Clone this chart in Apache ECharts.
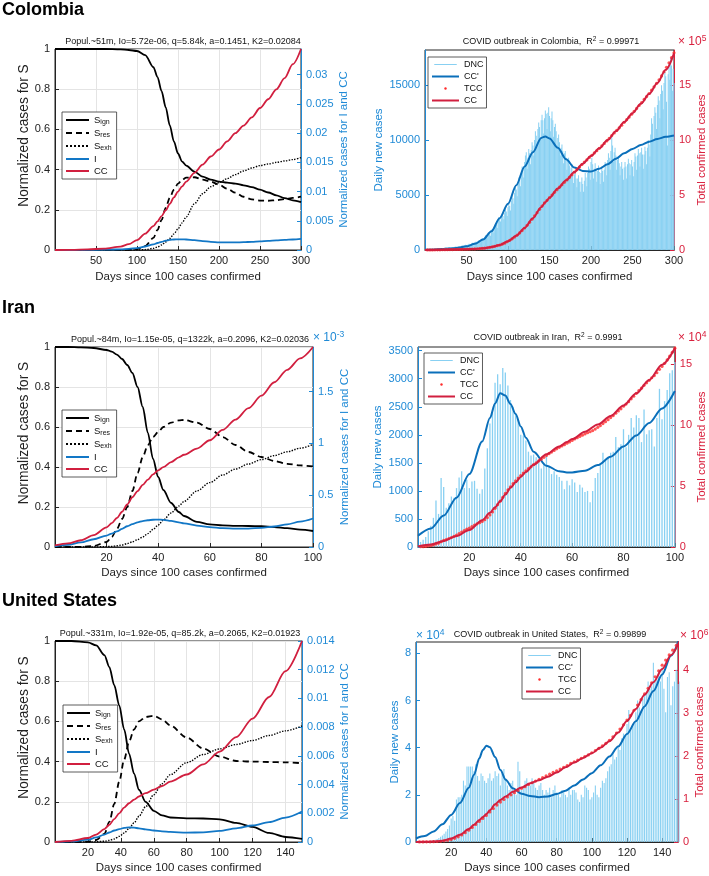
<!DOCTYPE html>
<html>
<head>
<meta charset="utf-8">
<title>COVID outbreak model fits</title>
<script src="https://cdn.jsdelivr.net/npm/echarts@6/dist/echarts.min.js"></script>
<style>
  html, body { margin: 0; padding: 0; background: #fff; }
  #chart { width: 709px; height: 876px; }
</style>
</head>
<body>
<div id="chart"></div>
<script>
// ===== Colombia =====
// model curves (left plot)
var colModelDays = [0, 20, 40, 60, 80, 90, 100, 110, 120, 125, 130, 135, 140, 145, 150, 155, 160, 170, 180, 190, 200, 210, 220, 230, 240, 250, 260, 270, 280, 290, 300];
var colSign = [1, 1, 1, 1, 0.998, 0.995, 0.99, 0.97, 0.91, 0.86, 0.79, 0.71, 0.62, 0.54, 0.48, 0.44, 0.42, 0.39, 0.365, 0.35, 0.34, 0.335, 0.33, 0.322, 0.313, 0.3, 0.286, 0.272, 0.258, 0.247, 0.238];
var colSres = [0, 0, 0, 0, 0, 0.001, 0.005, 0.02, 0.06, 0.1, 0.15, 0.21, 0.26, 0.3, 0.33, 0.35, 0.36, 0.362, 0.35, 0.34, 0.325, 0.305, 0.285, 0.265, 0.252, 0.246, 0.245, 0.248, 0.253, 0.259, 0.265];
var colSexh = [0, 0, 0, 0, 0, 0, 0, 0.002, 0.008, 0.015, 0.025, 0.04, 0.058, 0.08, 0.105, 0.135, 0.165, 0.23, 0.28, 0.315, 0.335, 0.355, 0.375, 0.393, 0.408, 0.42, 0.428, 0.436, 0.443, 0.45, 0.46];
var colI = [0, 0, 0.00002, 0.00005, 0.00012, 0.0002, 0.00033, 0.0006, 0.00095, 0.0012, 0.0014, 0.0016, 0.00172, 0.0018, 0.00183, 0.00183, 0.0018, 0.00168, 0.00153, 0.0014, 0.00132, 0.0013, 0.0013, 0.00134, 0.0014, 0.00148, 0.00157, 0.00166, 0.00174, 0.0018, 0.0019];
var colCC = [0, 0.00003, 0.0001, 0.00024, 0.00058, 0.001, 0.0017, 0.0028, 0.0041, 0.0049, 0.0058, 0.0068, 0.0079, 0.009, 0.01, 0.0109, 0.0117, 0.0132, 0.0146, 0.016, 0.0172, 0.0186, 0.02, 0.0213, 0.0227, 0.0243, 0.0258, 0.0275, 0.0294, 0.0318, 0.0344];
// fit (right plot); totals in units of 10^5
var colFitDays = [0, 10, 20, 30, 40, 50, 60, 70, 80, 90, 100, 110, 120, 130, 140, 145, 150, 160, 170, 180, 190, 200, 210, 220, 230, 240, 250, 260, 270, 280, 290, 300];
var colFitRate = [30, 50, 80, 130, 200, 330, 560, 950, 1700, 2900, 4200, 5900, 7600, 8900, 10200, 10330, 10150, 9300, 8250, 7500, 7200, 7150, 7400, 7800, 8300, 8800, 9200, 9550, 9850, 10100, 10300, 10420];
var colFitTotal = [0, 0.01, 0.02, 0.035, 0.05, 0.07, 0.1, 0.15, 0.27, 0.45, 0.8, 1.3, 2.0, 2.9, 3.9, 4.35, 4.75, 5.6, 6.35, 7.1, 7.85, 8.55, 9.25, 10.0, 10.8, 11.65, 12.45, 13.3, 14.2, 15.2, 16.4, 17.9];
// daily new cases, day 1..300
var colNew = [
  30, 40, 50, 60, 40, 70, 80, 60, 90, 100,
  90, 110, 120, 80, 130, 150, 140, 120, 160, 180,
  170, 190, 150, 200, 220, 210, 180, 230, 250, 240,
  200, 260, 280, 270, 230, 300, 320, 290, 250, 330,
  350, 340, 300, 380, 400, 420, 360, 450, 480, 460,
  400, 520, 560, 540, 480, 600, 650, 620, 560, 700,
  760, 740, 650, 820, 900, 860, 780, 980, 1100, 1050,
  950, 1200, 1350, 1300, 1150, 1450, 1600, 1500, 1300, 1700,
  1900, 1800, 1600, 2100, 2400, 2300, 2000, 2700, 3000, 2900,
  2600, 3100, 3300, 3100, 2800, 3400, 3700, 3500, 3100, 3900,
  4200, 4000, 3600, 4500, 4900, 4700, 4200, 5200, 5700, 5500,
  4900, 6000, 6600, 6400, 5800, 7000, 7600, 7300, 6600, 8000,
  8600, 8900, 7400, 8400, 9200, 8800, 7800, 9100, 9800, 9500,
  8600, 10000, 10800, 10400, 9400, 11000, 11600, 11200, 10000, 11800,
  12300, 11800, 10600, 12000, 12700, 12400, 11000, 12500, 13000, 12200,
  10800, 12000, 12600, 11800, 10300, 11200, 11500, 10800, 9500, 10200,
  10500, 9800, 8600, 9300, 9600, 9000, 7900, 8800, 9000, 8400,
  7300, 8200, 8400, 7700, 6800, 7500, 7800, 7100, 6100, 6900,
  7200, 6500, 5700, 6500, 6800, 6200, 5300, 6200, 6600, 6000,
  5300, 6300, 7000, 6600, 5800, 7000, 7600, 7400, 6400, 8000,
  8400, 7800, 6500, 7400, 7900, 7300, 6200, 7200, 7700, 7100,
  6000, 7000, 7600, 7200, 6200, 7300, 8000, 7800, 6800, 8200,
  8800, 8400, 7300, 9000, 10300, 9500, 8000, 8900, 9300, 8600,
  7300, 8200, 8500, 7900, 6800, 7600, 8000, 7400, 6400, 7500,
  8000, 7600, 6500, 7800, 8300, 7900, 6800, 7800, 8200, 7600,
  6700, 8000, 8800, 8500, 7300, 8600, 9200, 8800, 7600, 8900,
  9300, 8700, 7400, 8700, 9400, 9000, 7800, 9300, 10000, 9600,
  8500, 10500, 12000, 11500, 10000, 12200, 13000, 12500, 11000, 13200,
  14000, 13600, 12000, 14200, 15000, 14500, 12800, 15200, 16200, 15800,
  13500, 9500, 16000, 17000, 15500, 17500, 16800, 14500, 16500, 15200
];
// total confirmed cases every 3rd day (3, 6, ... 300), units of 10^5
var colTotal = [
  0.003, 0.006, 0.009, 0.012, 0.015, 0.018, 0.021, 0.026, 0.03, 0.035,
  0.039, 0.044, 0.049, 0.054, 0.06, 0.066, 0.072, 0.08, 0.09, 0.1,
  0.113, 0.127, 0.143, 0.165, 0.2, 0.24, 0.28, 0.33, 0.39, 0.45,
  0.53, 0.62, 0.75, 0.88, 1.02, 1.18, 1.36, 1.55, 1.77, 2.0,
  2.25, 2.52, 2.8, 3.1, 3.4, 3.7, 4.0, 4.28, 4.52, 4.76,
  5.0, 5.25, 5.48, 5.72, 5.94, 6.16, 6.38, 6.6, 6.84, 7.08,
  7.31, 7.54, 7.77, 8.0, 8.2, 8.42, 8.62, 8.83, 9.04, 9.25,
  9.47, 9.7, 9.93, 10.17, 10.42, 10.65, 10.88, 11.12, 11.36, 11.62,
  11.86, 12.1, 12.36, 12.62, 12.88, 13.15, 13.42, 13.7, 13.96, 14.24,
  14.54, 14.85, 15.16, 15.48, 15.84, 16.22, 16.62, 17.04, 17.5, 17.95
];

// ===== Iran =====
var iranModelDays = [0, 5, 10, 15, 20, 22, 24, 26, 28, 30, 32, 34, 36, 38, 40, 42, 45, 48, 50, 55, 60, 65, 70, 75, 80, 85, 90, 95, 100];
var iranSign = [1, 1, 0.998, 0.995, 0.985, 0.977, 0.962, 0.94, 0.91, 0.87, 0.8, 0.7, 0.57, 0.44, 0.35, 0.285, 0.22, 0.175, 0.155, 0.126, 0.113, 0.108, 0.106, 0.105, 0.104, 0.1, 0.094, 0.087, 0.08];
var iranSres = [0, 0, 0.001, 0.005, 0.025, 0.05, 0.09, 0.14, 0.2, 0.28, 0.37, 0.45, 0.51, 0.55, 0.575, 0.6, 0.622, 0.633, 0.635, 0.622, 0.59, 0.55, 0.51, 0.475, 0.45, 0.43, 0.416, 0.408, 0.403];
var iranSexh = [0, 0, 0, 0, 0.002, 0.003, 0.006, 0.01, 0.017, 0.026, 0.037, 0.05, 0.067, 0.088, 0.11, 0.135, 0.17, 0.205, 0.228, 0.28, 0.322, 0.36, 0.39, 0.415, 0.437, 0.457, 0.476, 0.494, 0.513];
// I and CC in units of 10^-3
var iranI = [0.006, 0.02, 0.045, 0.075, 0.11, 0.13, 0.15, 0.175, 0.2, 0.22, 0.238, 0.25, 0.258, 0.263, 0.265, 0.262, 0.252, 0.238, 0.228, 0.207, 0.192, 0.182, 0.177, 0.178, 0.185, 0.198, 0.218, 0.245, 0.275];
var iranCC = [0.015, 0.035, 0.065, 0.115, 0.19, 0.23, 0.28, 0.34, 0.41, 0.48, 0.54, 0.6, 0.65, 0.7, 0.74, 0.77, 0.82, 0.865, 0.89, 0.95, 1.03, 1.13, 1.23, 1.34, 1.46, 1.59, 1.71, 1.82, 1.93];
// fit; totals in units of 10^4
var iranFitDays = [0, 5, 10, 15, 20, 25, 28, 30, 32, 34, 36, 38, 40, 42, 45, 50, 55, 58, 60, 65, 70, 75, 80, 85, 90, 95, 100];
var iranFitRate = [200, 330, 560, 880, 1300, 1880, 2300, 2560, 2740, 2700, 2550, 2370, 2150, 1950, 1700, 1450, 1350, 1330, 1330, 1360, 1460, 1610, 1790, 1990, 2210, 2470, 2780];
var iranFitTotal = [0.05, 0.2, 0.5, 0.9, 1.4, 2.2, 2.8, 3.25, 3.75, 4.3, 4.85, 5.3, 5.75, 6.15, 6.75, 7.6, 8.25, 8.6, 8.85, 9.45, 10.05, 10.75, 11.6, 12.6, 13.7, 14.95, 16.3];
// daily new cases, day 1..100
var iranNew = [
  90, 130, 180, 280, 380, 520, 830, 590, 1230, 1070,
  700, 780, 900, 880, 1050, 1240, 1350, 1050, 1200, 1050,
  1170, 1180, 1040, 950, 1030, 1400, 1760, 2200, 2400, 2930,
  3080, 2900, 3190, 3110, 2880, 2620, 2500, 2390, 2270, 2000,
  1990, 1900, 1700, 1630, 1650, 1600, 1520, 1400, 1500, 1630,
  1420, 1300, 1350, 1290, 1250, 1180, 1030, 1180, 1100, 1210,
  1150, 980, 1110, 1060, 980, 1000, 800, 1000, 1230, 1320,
  1500, 1680, 1550, 1600, 1680, 1700, 1960, 1780, 1830, 2100,
  1780, 2000, 2300, 2130, 2350, 2300, 1870, 2450, 2010, 2080,
  2100, 1790, 2300, 2820, 2280, 2600, 2800, 3100, 3150, 3300
];
// total confirmed cases day 1..100, units of 10^4
var iranTotal = [
  0.02, 0.03, 0.05, 0.08, 0.12, 0.17, 0.25, 0.31, 0.43, 0.54,
  0.61, 0.69, 0.78, 0.87, 0.97, 1.1, 1.23, 1.34, 1.46, 1.56,
  1.68, 1.8, 1.9, 1.99, 2.1, 2.24, 2.41, 2.63, 2.87, 3.17,
  3.47, 3.76, 4.08, 4.39, 4.68, 4.94, 5.19, 5.43, 5.66, 5.86,
  6.06, 6.25, 6.42, 6.58, 6.75, 6.91, 7.06, 7.2, 7.35, 7.51,
  7.65, 7.78, 7.92, 8.05, 8.17, 8.29, 8.39, 8.51, 8.62, 8.74,
  8.86, 8.96, 9.07, 9.17, 9.27, 9.37, 9.45, 9.55, 9.67, 9.81,
  9.96, 10.12, 10.28, 10.44, 10.61, 10.78, 10.97, 11.15, 11.33, 11.54,
  11.72, 11.92, 12.15, 12.37, 12.6, 12.83, 13.02, 13.26, 13.46, 13.67,
  13.88, 14.06, 14.29, 14.57, 14.8, 15.06, 15.34, 15.65, 15.97, 16.3
];

// ===== United States =====
var usModelDays = [0, 10, 20, 25, 30, 33, 36, 39, 42, 45, 48, 51, 55, 60, 65, 70, 80, 90, 100, 110, 120, 130, 140, 150];
var usSign = [1, 1, 0.993, 0.978, 0.93, 0.87, 0.78, 0.68, 0.56, 0.44, 0.34, 0.26, 0.2, 0.155, 0.132, 0.122, 0.118, 0.117, 0.113, 0.095, 0.075, 0.045, 0.025, 0.015];
var usSres = [0, 0, 0.002, 0.01, 0.04, 0.1, 0.19, 0.3, 0.41, 0.5, 0.56, 0.6, 0.622, 0.628, 0.61, 0.58, 0.52, 0.465, 0.425, 0.403, 0.4, 0.398, 0.396, 0.392];
var usSexh = [0, 0, 0, 0.001, 0.004, 0.008, 0.015, 0.028, 0.045, 0.067, 0.095, 0.128, 0.175, 0.235, 0.29, 0.335, 0.395, 0.435, 0.463, 0.485, 0.505, 0.53, 0.553, 0.578];
var usI = [0, 0.00004, 0.00016, 0.00032, 0.00052, 0.00066, 0.0008, 0.0009, 0.00098, 0.00102, 0.001, 0.00095, 0.00088, 0.0008, 0.00074, 0.0007, 0.00065, 0.00067, 0.00077, 0.00095, 0.00115, 0.00138, 0.0017, 0.00212];
var usCC = [0, 0.00008, 0.00028, 0.00052, 0.0009, 0.0012, 0.0016, 0.002, 0.0024, 0.0027, 0.00295, 0.00317, 0.0034, 0.00365, 0.0039, 0.0042, 0.0047, 0.0054, 0.0063, 0.0073, 0.0086, 0.0101, 0.0119, 0.014];
// fit; rate in 10^4, totals in 10^6
var usFitDays = [0, 5, 10, 15, 20, 25, 30, 33, 36, 38, 40, 42, 45, 48, 51, 55, 60, 65, 70, 75, 80, 85, 90, 95, 100, 105, 110, 115, 120, 125, 130, 135, 140, 145, 150];
var usFitRate = [0.15, 0.25, 0.45, 0.75, 1.15, 1.65, 2.3, 2.85, 3.55, 3.9, 4.08, 4.02, 3.6, 3.05, 2.64, 2.28, 2.05, 1.95, 1.9, 1.93, 2.03, 2.17, 2.4, 2.65, 2.92, 3.25, 3.62, 4.05, 4.58, 5.12, 5.75, 6.4, 7.1, 7.9, 8.7];
var usFitTotal = [0, 0.004, 0.01, 0.03, 0.08, 0.17, 0.3, 0.4, 0.51, 0.58, 0.65, 0.74, 0.88, 0.98, 1.06, 1.17, 1.27, 1.37, 1.44, 1.52, 1.62, 1.74, 1.85, 1.96, 2.07, 2.2, 2.35, 2.55, 2.82, 3.1, 3.43, 3.72, 4.03, 4.35, 4.7];
// daily new cases day 1..150, units of 10^4
var usNew = [
  0.01, 0.01, 0.02, 0.02, 0.03, 0.03, 0.04, 0.05, 0.06, 0.08,
  0.1, 0.13, 0.17, 0.22, 0.28, 0.35, 0.45, 0.55, 0.7, 1.0,
  1.1, 0.9, 1.8, 1.9, 1.9, 2.0, 2.6, 2.4, 3.2, 3.2,
  3.2, 3.2, 3.0, 3.3, 2.8, 2.6, 2.9, 2.8, 2.6, 2.5,
  2.7, 2.9, 2.6, 2.7, 3.0, 2.8, 2.9, 2.4, 2.9, 3.1,
  2.7, 2.4, 2.2, 2.5, 2.6, 2.1, 2.0, 3.4, 3.0, 2.2,
  2.3, 2.6, 2.7, 2.5, 2.4, 2.7, 2.5, 2.3, 2.2, 2.4,
  2.5, 2.2, 2.0, 2.2, 2.1, 2.3, 1.9, 2.2, 2.4, 2.1,
  2.0, 1.9, 2.2, 2.1, 2.0, 1.9, 2.3, 2.0, 2.2, 2.2,
  2.1, 1.8, 1.7, 2.0, 1.9, 2.4, 2.3, 2.2, 1.8, 1.9,
  2.1, 2.4, 2.0, 1.9, 2.3, 2.6, 2.5, 2.7, 3.0, 3.2,
  3.3, 3.8, 3.5, 3.6, 4.0, 3.9, 4.4, 4.6, 4.5, 5.0,
  5.6, 4.7, 4.9, 5.0, 5.5, 6.0, 5.7, 5.5, 6.1, 6.2,
  6.3, 6.8, 6.5, 6.6, 7.6, 6.8, 6.9, 7.3, 6.8, 7.4,
  6.5, 5.5, 7.0, 7.2, 5.8, 6.6, 6.8, 7.3, 6.7, 6.8
];
// total confirmed cases every 2nd day (2, 4, ... 150), units of 10^6
var usTotal = [
  0.001, 0.002, 0.003, 0.005, 0.008, 0.012, 0.018, 0.027, 0.04, 0.06,
  0.085, 0.12, 0.165, 0.215, 0.275, 0.34, 0.41, 0.48, 0.55, 0.62,
  0.7, 0.78, 0.86, 0.93, 0.99, 1.05, 1.1, 1.15, 1.2, 1.25,
  1.29, 1.34, 1.38, 1.42, 1.46, 1.5, 1.54, 1.58, 1.62, 1.66,
  1.7, 1.74, 1.78, 1.83, 1.87, 1.91, 1.95, 1.99, 2.03, 2.08,
  2.13, 2.18, 2.24, 2.3, 2.37, 2.45, 2.54, 2.63, 2.73, 2.84,
  2.95, 3.07, 3.19, 3.32, 3.45, 3.58, 3.71, 3.85, 3.99, 4.12,
  4.24, 4.36, 4.47, 4.58, 4.69
];

// ===== styles =====
var FONT = '"Liberation Sans", Arial, Helvetica, sans-serif';
var AX_BLUE = '#1f8ad6';
var AX_RED = '#d9213e';
var FIT_BLUE = '#0a6fba';
var I_BLUE = '#1277c6';
var CC_RED = '#d11f3f';
var BAR_BLUE = '#88d0f2';
var DOT_RED = '#ff2b2b';
var INK = '#222';

// legend icons: thin bar for DNC, small dot for TCC (corner points keep the box size)
var DNC_ICON = 'path://M0,0L0,0M30,0L30,0M0,12L0,12M0,5.3L30,5.3L30,6.7L0,6.7Z';
var DOT_ICON = 'path://M0,0L0,0M30,0L30,0M0,12L0,12M13.4,6a1.6,1.6 0 1,0 3.2,0a1.6,1.6 0 1,0 -3.2,0Z';

function zip(days, vals) {
  return days.map(function (d, i) { return [d, vals[i]]; });
}
function everyDay(vals, step) {
  return vals.map(function (v, i) { return [(i + 1) * step, v]; });
}
function plain(v) {
  return String(+v.toFixed(6));
}

var grids = [
  { left: 55, top: 49, width: 246, height: 201 },
  { left: 425, top: 50, width: 252, height: 200 },
  { left: 55, top: 347, width: 258, height: 200 },
  { left: 418, top: 347, width: 259, height: 200 },
  { left: 55, top: 641, width: 247, height: 201 },
  { left: 416, top: 642, width: 262, height: 200 }
];

function xAx(g, max, interval, gridLines, nameGap) {
  return {
    type: 'value', gridIndex: g, min: 0, max: max, interval: interval,
    name: 'Days since 100 cases confirmed', nameLocation: 'middle', nameGap: nameGap,
    nameTextStyle: { fontSize: 11.5, color: INK },
    axisLine: { onZero: false, lineStyle: { color: '#262626', width: 1 } },
    axisTick: { inside: true, length: 4, lineStyle: { color: '#262626' } },
    axisLabel: { fontSize: 11, color: INK, margin: 5, formatter: plain,
      showMinLabel: false, showMaxLabel: max % interval === 0 },
    splitLine: { show: gridLines, lineStyle: { color: '#e4e4e4' } }
  };
}

function yAx(g, side, max, interval, name, color, nameGap, gridLines, nameStyle) {
  return {
    type: 'value', gridIndex: g, position: side, min: 0, max: max, interval: interval,
    name: name, nameLocation: 'middle', nameRotate: 90, nameGap: nameGap,
    nameTextStyle: Object.assign({ fontSize: 11.5, color: color }, nameStyle || {}),
    axisLine: { show: true, lineStyle: { color: color, width: 1 } },
    axisTick: { show: true, inside: true, length: 4, lineStyle: { color: color } },
    axisLabel: { fontSize: 11, color: color, margin: 5, formatter: plain,
      showMaxLabel: Math.abs(max / interval - Math.round(max / interval)) < 1e-6 },
    splitLine: { show: gridLines, lineStyle: { color: '#e4e4e4' } }
  };
}

// the S label sits a little above the axis middle in the original
var S_LABEL = { fontSize: 13.8, padding: [0, 0, 0, 28] };

var subName = { S_ign: 'S{sub|ign}', S_res: 'S{sub|res}', S_exh: 'S{sub|exh}' };

// line legend icons draw a marker by default; itemStyle opacity 0 hides it
function modelLegend(left, top) {
  return {
    left: left, top: top, orient: 'vertical', itemWidth: 23, itemHeight: 11, itemGap: 2,
    padding: [3, 5, 3, 3], backgroundColor: '#fff', borderColor: '#333', borderWidth: 0.8,
    selectedMode: false, itemStyle: { opacity: 0 },
    data: ['S_ign', 'S_res', 'S_exh', 'I', 'CC'],
    formatter: function (n) { return subName[n] || n; },
    textStyle: { fontSize: 9.5, color: '#111', rich: { sub: { fontSize: 7, color: '#111', padding: [5, 0, 0, 0] } } }
  };
}

function fitLegend(left, top) {
  return {
    left: left, top: top, orient: 'vertical', itemWidth: 27, itemHeight: 9, itemGap: 3,
    padding: [3, 3, 3, 3], backgroundColor: '#fff', borderColor: '#333', borderWidth: 0.8,
    selectedMode: false, itemStyle: { opacity: 0 },
    data: [
      { name: 'DNC', icon: DNC_ICON, itemStyle: { opacity: 1 } },
      "CC'",
      { name: 'TCC', icon: DOT_ICON, itemStyle: { opacity: 1 } },
      'CC'
    ],
    textStyle: { fontSize: 9, color: '#111' }
  };
}

function line(name, g, yIdx, days, vals, color, width, dash) {
  return {
    name: name, type: 'line', xAxisIndex: g, yAxisIndex: yIdx,
    data: zip(days, vals), symbol: 'none', smooth: 0.3, smoothMonotone: 'x',
    color: color, lineStyle: { color: color, width: width, type: dash || 'solid' },
    silent: true, z: 3
  };
}

function modelSeries(g, days, sIgn, sRes, sExh, iv, cc) {
  return [
    line('S_ign', g, 2 * g, days, sIgn, '#000', 1.8),
    line('S_res', g, 2 * g, days, sRes, '#000', 1.8, [6, 4]),
    line('S_exh', g, 2 * g, days, sExh, '#000', 1.4, 'dotted'),
    line('I', g, 2 * g + 1, days, iv, I_BLUE, 1.8),
    line('CC', g, 2 * g + 1, days, cc, CC_RED, 1.8)
  ];
}

function fitSeries(g, newVals, barWidth, fitDays, rate, total, tcc, tccStep) {
  return [
    { name: 'DNC', type: 'bar', xAxisIndex: g, yAxisIndex: 2 * g, data: everyDay(newVals, 1),
      barWidth: barWidth, itemStyle: { color: BAR_BLUE }, silent: true, z: 1 },
    line("CC'", g, 2 * g, fitDays, rate, FIT_BLUE, 2),
    { name: 'TCC', type: 'scatter', xAxisIndex: g, yAxisIndex: 2 * g + 1, data: everyDay(tcc, tccStep),
      symbol: 'circle', symbolSize: 3.2, itemStyle: { color: DOT_RED }, silent: true, z: 4 },
    Object.assign(line('CC', g, 2 * g + 1, fitDays, total, CC_RED, 2), { z: 5 })
  ];
}

function head(text, left, top) {
  return { text: text, left: left, top: top, padding: 0,
    textStyle: { fontSize: 18, fontWeight: 'bold', color: '#000' } };
}
function sub(text, left, top) {
  return { text: text, left: left, top: top, padding: 0, textAlign: 'center',
    textStyle: { fontSize: 9, fontWeight: 'normal', color: '#111',
      rich: { sup: { fontSize: 6.5, color: '#111', padding: [0, 0, 5, 0] } } } };
}
function mult(text, left, top, color) {
  return { text: text, left: left, top: top, padding: 0,
    textStyle: { fontSize: 12, fontWeight: 'normal', color: color,
      rich: { sup: { fontSize: 8.5, color: color, padding: [0, 0, 7, 0] } } } };
}

var option = {
  animation: false,
  textStyle: { fontFamily: FONT },
  title: [
    head('Colombia', 2, 1),
    head('Iran', 2, 299),
    head('United States', 2, 592),
    sub('Popul.~51m, Io=5.72e-06, q=5.84k, a=0.1451, K2=0.02084', 183, 37),
    sub('COVID outbreak in Colombia,  R{sup|2} = 0.99971', 551, 36),
    sub('Popul.~84m, Io=1.15e-05, q=1322k, a=0.2096, K2=0.02036', 190, 335),
    sub('COVID outbreak in Iran,  R{sup|2} = 0.9991', 548, 332),
    sub('Popul.~331m, Io=1.92e-05, q=85.2k, a=0.2065, K2=0.01923', 180, 629),
    sub('COVID outbreak in United States,  R{sup|2} = 0.99899', 550, 629),
    mult('× 10{sup|5}', 678, 34, AX_RED),
    mult('× 10{sup|-3}', 313, 330, AX_BLUE),
    mult('× 10{sup|4}', 678, 330, AX_RED),
    mult('× 10{sup|4}', 416, 628, AX_BLUE),
    mult('× 10{sup|6}', 680, 628, AX_RED)
  ],
  legend: [
    modelLegend(62, 112), fitLegend(428, 57),
    modelLegend(62, 410), fitLegend(424, 353),
    modelLegend(63, 705), fitLegend(522, 648)
  ],
  grid: grids.map(function (g) {
    return Object.assign({ show: true, borderColor: '#262626', borderWidth: 1, containLabel: false }, g);
  }),
  xAxis: [
    xAx(0, 300, 50, true, 21),
    xAx(1, 300, 50, false, 21),
    xAx(2, 100, 20, true, 20),
    xAx(3, 100, 20, false, 20),
    xAx(4, 150, 20, true, 20),
    xAx(5, 149, 20, false, 20)
  ],
  yAxis: [
    yAx(0, 'left', 1, 0.2, 'Normalized cases for S', INK, 20, true, S_LABEL),
    yAx(0, 'right', 0.0344, 0.005, 'Normalized cases for I and CC', AX_BLUE, 36, false),
    yAx(1, 'left', 18200, 5000, 'Daily new cases', AX_BLUE, 40, false),
    yAx(1, 'right', 18.2, 5, 'Total confirmed cases', AX_RED, 22, false),
    yAx(2, 'left', 1, 0.2, 'Normalized cases for S', INK, 20, true, S_LABEL),
    yAx(2, 'right', 1.93, 0.5, 'Normalized cases for I and CC', AX_BLUE, 26, false),
    yAx(3, 'left', 3566, 500, 'Daily new cases', AX_BLUE, 34, false),
    yAx(3, 'right', 16.4, 5, 'Total confirmed cases', AX_RED, 20, false),
    yAx(4, 'left', 1, 0.2, 'Normalized cases for S', INK, 20, true, S_LABEL),
    yAx(4, 'right', 0.014, 0.002, 'Normalized cases for I and CC', AX_BLUE, 37, false),
    yAx(5, 'left', 8.48, 2, 'Daily new cases', AX_BLUE, 13, false),
    yAx(5, 'right', 4.66, 1, 'Total confirmed cases', AX_RED, 16, false)
  ],
  series: [].concat(
    modelSeries(0, colModelDays, colSign, colSres, colSexh, colI, colCC),
    fitSeries(1, colNew, 0.75, colFitDays, colFitRate, colFitTotal, colTotal, 3),
    modelSeries(2, iranModelDays, iranSign, iranSres, iranSexh, iranI, iranCC),
    fitSeries(3, iranNew, 1.3, iranFitDays, iranFitRate, iranFitTotal, iranTotal, 1),
    modelSeries(4, usModelDays, usSign, usSres, usSexh, usI, usCC),
    fitSeries(5, usNew, 1.1, usFitDays, usFitRate, usFitTotal, usTotal, 2)
  )
};

var chart = echarts.init(document.getElementById('chart'));
chart.setOption(option);
</script>
</body>
</html>
